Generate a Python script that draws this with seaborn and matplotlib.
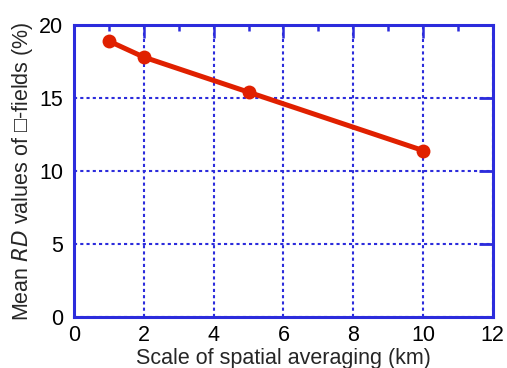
import pandas as pd
import matplotlib.pyplot as plt
import seaborn as sns
from matplotlib.ticker import MultipleLocator

# data
scale_km = [1, 2, 5, 10]
mean_rd = [18.9, 17.8, 15.4, 11.4]

df = pd.DataFrame({'scale': scale_km, 'rd': mean_rd})

sns.set_style('white')
plt.rcParams['font.family'] = ['Liberation Sans', 'DejaVu Sans']

blue = '#2c2cdc'
red = '#e02000'

fig = plt.figure(figsize=(5.07, 3.68), dpi=100)
ax = fig.add_axes([0.146, 0.139, 0.826, 0.793])

sns.lineplot(data=df, x='scale', y='rd', ax=ax, color=red, linewidth=3.6,
             marker='o', markersize=10, markeredgewidth=0, zorder=3)

ax.set_xlim(0, 12)
ax.set_ylim(0, 20)
ax.xaxis.set_major_locator(MultipleLocator(2))
ax.xaxis.set_minor_locator(MultipleLocator(1))
ax.yaxis.set_major_locator(MultipleLocator(5))

ax.grid(True, which='major', color=blue, linestyle=(0, (1.5, 1.5)), linewidth=1.5)
for s in ax.spines.values():
    s.set_color(blue)
    s.set_linewidth(2.2)

ax.tick_params(which='both', direction='in', top=True, right=True, color=blue,
               labelsize=15.5, labelcolor='black')
ax.tick_params(axis='x', which='major', length=9.5, width=1.8, pad=6)
ax.tick_params(axis='x', which='minor', length=4.5, width=1.8)
ax.tick_params(axis='y', which='major', length=10, width=2, pad=8)

ax.set_xlabel('Scale of spatial averaging (km)', fontsize=15.5, labelpad=1)
ax.set_ylabel('Mean $\\it{RD}$ values of \u25a1-fields (%)', fontsize=15.5, labelpad=3)

plt.savefig('out.png', dpi=100)
